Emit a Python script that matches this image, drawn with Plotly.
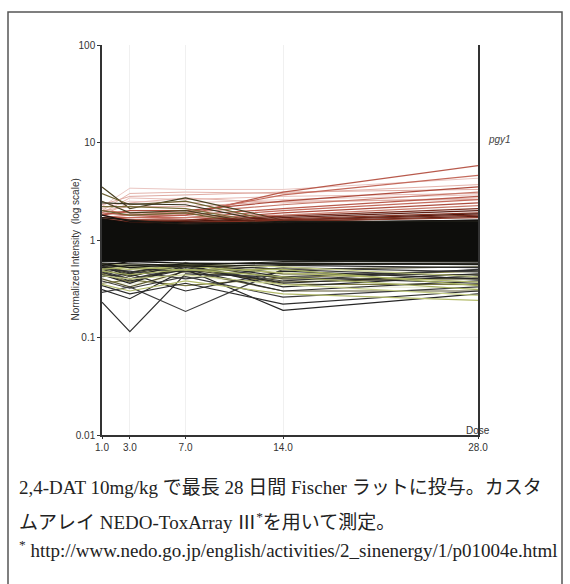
import plotly.graph_objects as go

# Sampling days (x axis) and tick labels
doses = [1, 3, 7, 14, 28]
dose_labels = ["1.0", "3.0", "7.0", "14.0", "28.0"]
y_ticks = [0.01, 0.1, 1, 10, 100]
y_tick_labels = ["0.01", "0.1", "1", "10", "100"]

# Normalized intensity per gene at each dose, grouped by expression level on day 28
pink_genes = [
    [2.2, 3.4, 3.3, 3.3, 4.3],
    [2.0, 3.0, 3.1, 3.0, 3.7],
    [2.3, 2.8, 2.9, 3.1, 3.3],
    [1.9, 2.7, 2.6, 2.8, 3.0],
    [2.1, 2.5, 2.4, 2.6, 2.9],
    [1.8, 2.4, 2.7, 2.4, 2.7],
    [2.0, 2.2, 2.2, 2.5, 2.6],
]
red_genes = [
    [1.9, 1.8, 1.8, 3.1, 5.8],   # pgy1
    [2.0, 1.9, 1.9, 2.9, 4.6],
    [1.8, 2.0, 2.0, 2.5, 3.5],
    [1.7, 1.8, 1.9, 2.3, 3.1],
    [1.7, 1.7, 1.8, 2.1, 2.8],
    [1.6, 1.7, 1.7, 2.0, 2.6],
    [1.8, 1.6, 1.6, 1.9, 2.4],
    [1.6, 1.6, 1.7, 1.8, 2.25],
]
brown_genes = [
    [1.7, 1.6, 1.6, 1.75, 2.1],
    [1.6, 1.55, 1.55, 1.7, 2.0],
    [1.65, 1.5, 1.5, 1.65, 1.9],
    [1.55, 1.5, 1.55, 1.6, 1.85],
    [1.5, 1.55, 1.5, 1.6, 1.8],
    [1.6, 1.45, 1.45, 1.55, 1.75],
    [1.5, 1.45, 1.5, 1.55, 1.7],
]
early_peak_genes = [
    [3.5, 2.1, 2.7, 1.6, 1.3],
    [3.0, 2.3, 2.5, 1.5, 1.25],
    [2.4, 2.35, 2.3, 1.45, 1.2],
    [2.2, 2.2, 2.1, 1.4, 1.15],
    [2.5, 1.9, 2.0, 1.35, 1.1],
    [2.0, 1.8, 1.9, 1.3, 1.05],
]
# Bulk of unchanged genes: upper and lower bounds of the dense cluster
bulk_upper = [1.65, 1.5, 1.45, 1.5, 1.6]
bulk_lower = [0.6, 0.6, 0.62, 0.62, 0.6]
black_genes = [
    [1.8, 1.55, 1.5, 1.5, 1.6],
    [1.7, 1.6, 1.45, 1.55, 1.55],
    [0.58, 0.57, 0.55, 0.6, 0.6],
    [0.55, 0.6, 0.58, 0.57, 0.58],
    [0.57, 0.52, 0.57, 0.58, 0.56],
    [0.52, 0.55, 0.53, 0.56, 0.57],
]
low_dark_genes = [
    [0.23, 0.115, 0.45, 0.42, 0.36],
    [0.29, 0.33, 0.185, 0.5, 0.42],
    [0.31, 0.25, 0.5, 0.19, 0.28],
    [0.34, 0.28, 0.36, 0.22, 0.3],
    [0.38, 0.32, 0.42, 0.26, 0.33],
    [0.42, 0.45, 0.3, 0.48, 0.4],
    [0.47, 0.38, 0.5, 0.3, 0.38],
    [0.5, 0.48, 0.4, 0.52, 0.47],
    [0.53, 0.43, 0.55, 0.36, 0.45],
    [0.56, 0.52, 0.47, 0.55, 0.52],
    [0.48, 0.4, 0.52, 0.38, 0.5],
    [0.44, 0.36, 0.55, 0.33, 0.43],
    [0.54, 0.46, 0.58, 0.42, 0.49],
]
low_olive_genes = [
    [0.4, 0.33, 0.48, 0.3, 0.3],
    [0.45, 0.37, 0.54, 0.35, 0.35],
    [0.5, 0.42, 0.57, 0.4, 0.4],
    [0.55, 0.47, 0.58, 0.45, 0.44],
    [0.36, 0.39, 0.34, 0.41, 0.48],
    [0.52, 0.45, 0.56, 0.5, 0.53],
    [0.46, 0.4, 0.5, 0.37, 0.41],
]
low_green_genes = [
    [0.35, 0.3, 0.38, 0.28, 0.24],
    [0.43, 0.4, 0.44, 0.35, 0.27],
    [0.48, 0.44, 0.5, 0.42, 0.31],
    [0.52, 0.5, 0.54, 0.46, 0.37],
    [0.57, 0.55, 0.57, 0.53, 0.42],
    [0.5, 0.53, 0.49, 0.5, 0.34],
]
pale_genes = [
    [0.44, 0.4, 0.5, 0.39, 0.34],
    [0.5, 0.45, 0.55, 0.44, 0.39],
    [0.39, 0.35, 0.43, 0.34, 0.32],
    [0.54, 0.5, 0.53, 0.49, 0.46],
    [0.47, 0.5, 0.46, 0.44, 0.44],
]

caption_1 = "2,4-DAT 10mg/kg で最長 28 日間 Fischer ラットに投与。カスタ"
caption_2 = "ムアレイ NEDO-ToxArray Ⅲ<sup>*</sup>を用いて測定。"
caption_3 = "<sup>*</sup> http://www.nedo.go.jp/english/activities/2_sinenergy/1/p01004e.html"

W, H = 570, 584
L, R, T, B = 102, 92, 45, 149
PW, PH = W - L - R, H - T - B


def px(x):
    return (x - L) / PW


def py(y):
    return (H - B - y) / PH


fig = go.Figure()


def add_group(rows, colors, width=1.0):
    for i, vals in enumerate(rows):
        fig.add_trace(go.Scatter(
            x=doses, y=vals, mode="lines",
            line=dict(color=colors[i % len(colors)], width=width),
            hoverinfo="skip", showlegend=False))


add_group(pink_genes, ["#eac6c2", "#e4b4ac", "#dfaaa2", "#e8bcb6"])
add_group(red_genes, ["#b85a4c", "#c46a5c", "#ad4c3e", "#c87a6c"], 1.2)
add_group(early_peak_genes, ["#4a4222", "#6e6232", "#3a3420", "#7c6e3a"], 1.2)
add_group(brown_genes, ["#7a2c1e", "#5e2016", "#8a3626", "#4a180e"], 1.3)
add_group(pale_genes, ["#eef0dc", "#f2f2e6"], 1.3)
add_group(low_olive_genes, ["#5e5a32", "#7a7842", "#4a4828"], 1.2)
add_group(low_dark_genes, ["#2e2e2e", "#3c3c3c", "#262626"], 1.2)
add_group(low_green_genes, ["#b4bc6c", "#c8d08a", "#a6b060"], 1.2)

# dense cluster of unchanged genes
fig.add_trace(go.Scatter(x=doses, y=bulk_upper, mode="lines",
                         line=dict(color="#120f0c", width=1),
                         hoverinfo="skip", showlegend=False))
fig.add_trace(go.Scatter(x=doses, y=bulk_lower, mode="lines",
                         line=dict(color="#121410", width=1),
                         fill="tonexty", fillcolor="#0e0e0c",
                         hoverinfo="skip", showlegend=False))
add_group(black_genes, ["#141210", "#1a1a14", "#22221a"], 1.2)

axis_font = dict(family="Liberation Sans, Arial, sans-serif", size=10, color="#333333")

fig.update_xaxes(
    range=[1, 28], tickvals=doses, ticktext=dose_labels,
    showline=True, linecolor="#333333", linewidth=1.5,
    ticks="outside", ticklen=2, tickcolor="#333333",
    showgrid=True, gridcolor="#f0f0f0", gridwidth=1,
    zeroline=False, tickfont=axis_font, mirror=False,
)
fig.update_yaxes(
    type="log", range=[-2, 2], tickvals=y_ticks, ticktext=y_tick_labels,
    showline=True, linecolor="#333333", linewidth=1.5, mirror=True,
    ticks="outside", ticklen=3, tickcolor="#333333",
    showgrid=True, gridcolor="#f0f0f0", gridwidth=1,
    zeroline=False, tickfont=axis_font,
)

serif = "Liberation Serif, Noto Sans CJK JP, serif"
annotations = [
    dict(text="Dose", x=28, xref="x", y=0, yref="paper", xanchor="center",
         yanchor="bottom", yshift=-3, showarrow=False, font=axis_font),
    dict(text="<i>pgy1</i>", x=px(513), y=py(132), xref="paper", yref="paper",
         showarrow=False, font=dict(family="Liberation Sans, Arial", size=10, color="#444444")),
    dict(text="Normalized Intensity  (log scale)", x=px(67), y=py(250),
         xref="paper", yref="paper", textangle=-90, showarrow=False, font=axis_font),
    dict(text=caption_1, x=px(17), y=py(487), xref="paper", yref="paper",
         xanchor="left", yanchor="middle", showarrow=False,
         font=dict(family=serif, size=19, color="#222222")),
    dict(text=caption_2, x=px(17), y=py(521), xref="paper", yref="paper",
         xanchor="left", yanchor="middle", showarrow=False,
         font=dict(family=serif, size=19, color="#222222")),
    dict(text=caption_3, x=px(17), y=py(549), xref="paper", yref="paper",
         xanchor="left", yanchor="middle", showarrow=False,
         font=dict(family=serif, size=19, color="#222222")),
]

shapes = [
    dict(type="rect", xref="paper", yref="paper",
         x0=px(8), x1=px(562), y0=py(600), y1=py(12),
         line=dict(color="#555555", width=1.5), fillcolor="rgba(0,0,0,0)", layer="below"),
]

fig.update_layout(
    width=W, height=H, margin=dict(l=L, r=R, t=T, b=B),
    paper_bgcolor="white", plot_bgcolor="white",
    showlegend=False, annotations=annotations, shapes=shapes,
)

fig.write_html("out.html")
